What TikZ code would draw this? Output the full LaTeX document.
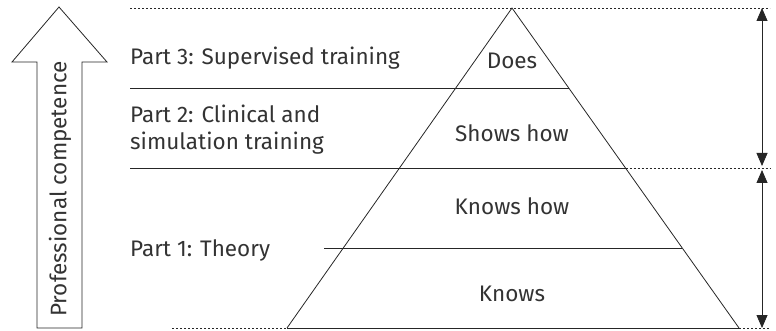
\documentclass[tikz,border=0pt]{standalone}
\usepackage{fontspec}
\setmainfont{Fira Sans}
\usetikzlibrary{arrows.meta}
\tikzset{
  ln/.style={line width=0.8pt, black!85},
  dots/.style={line width=0.8pt, black!85, dash pattern=on 2pt off 2pt},
  dbl/.style={line width=0.8pt, black!85, {Triangle[width=11pt,length=13pt]}-{Triangle[width=11pt,length=13pt]}},
  lbl/.style={font=\fontsize{22.5}{27}\selectfont, text=black!80, inner sep=0pt},
}
\begin{document}
\begin{tikzpicture}[x=1pt,y=-1pt]
\useasboundingbox (0,0) rectangle (776,331);
% pyramid
\coordinate (apex) at (512,8);
\coordinate (bl) at (287,328);
\coordinate (br) at (739,328);
\draw[ln] (bl) -- (apex) -- (br);
% horizontal lines
\coordinate (l3a) at (130,88); \coordinate (l3b) at (568.5,88);
\coordinate (l2a) at (130,168); \coordinate (l2b) at (625.5,168);
\coordinate (l1a) at (324,248); \coordinate (l1b) at (682,248);
\draw[ln] (l3a) -- (l3b);
\draw[ln] (l2a) -- (l2b);
\draw[ln] (l1a) -- (l1b);
\draw[ln] (bl) -- (br);
% dotted lines
\coordinate (topL) at (130,8); \coordinate (topR) at (770,8);
\coordinate (midR) at (770,168);
\coordinate (botL) at (172,328); \coordinate (botR) at (770,328);
\draw[dots] (topL) -- (apex) -- (topR);
\draw[dots] (l2b) -- (midR);
\draw[dots] (botL) -- (bl);
\draw[dots] (br) -- (botR);
% double arrows
\coordinate (a1) at (762,8); \coordinate (a2) at (762,166);
\coordinate (a3) at (762,170); \coordinate (a4) at (762,328);
\draw[dbl] (a1) -- (a2);
\draw[dbl] (a3) -- (a4);
% left arrow
\draw[ln] (37,328) -- (37,62) -- (12,62) -- (59,7) -- (107,62) -- (82,62) -- (82,328) -- cycle;
\node[lbl, rotate=90] (pc) at (60,189) {Professional competence};
% labels
\node[lbl, anchor=base west] (p3) at (130,65) {Part 3: Supervised training};
\node[lbl, anchor=base west, align=left] (p2) at (130,150) {Part 2: Clinical and\\simulation training};
\node[lbl, anchor=base west] (p1) at (130,256) {Part 1: Theory};
\node[lbl] (does) at (512,61) {Does};
\node[lbl] (shows) at (512,133) {Shows how};
\node[lbl] (knowshow) at (512,206) {Knows how};
\node[lbl] (knows) at (512,294) {Knows};
\end{tikzpicture}
\end{document}
